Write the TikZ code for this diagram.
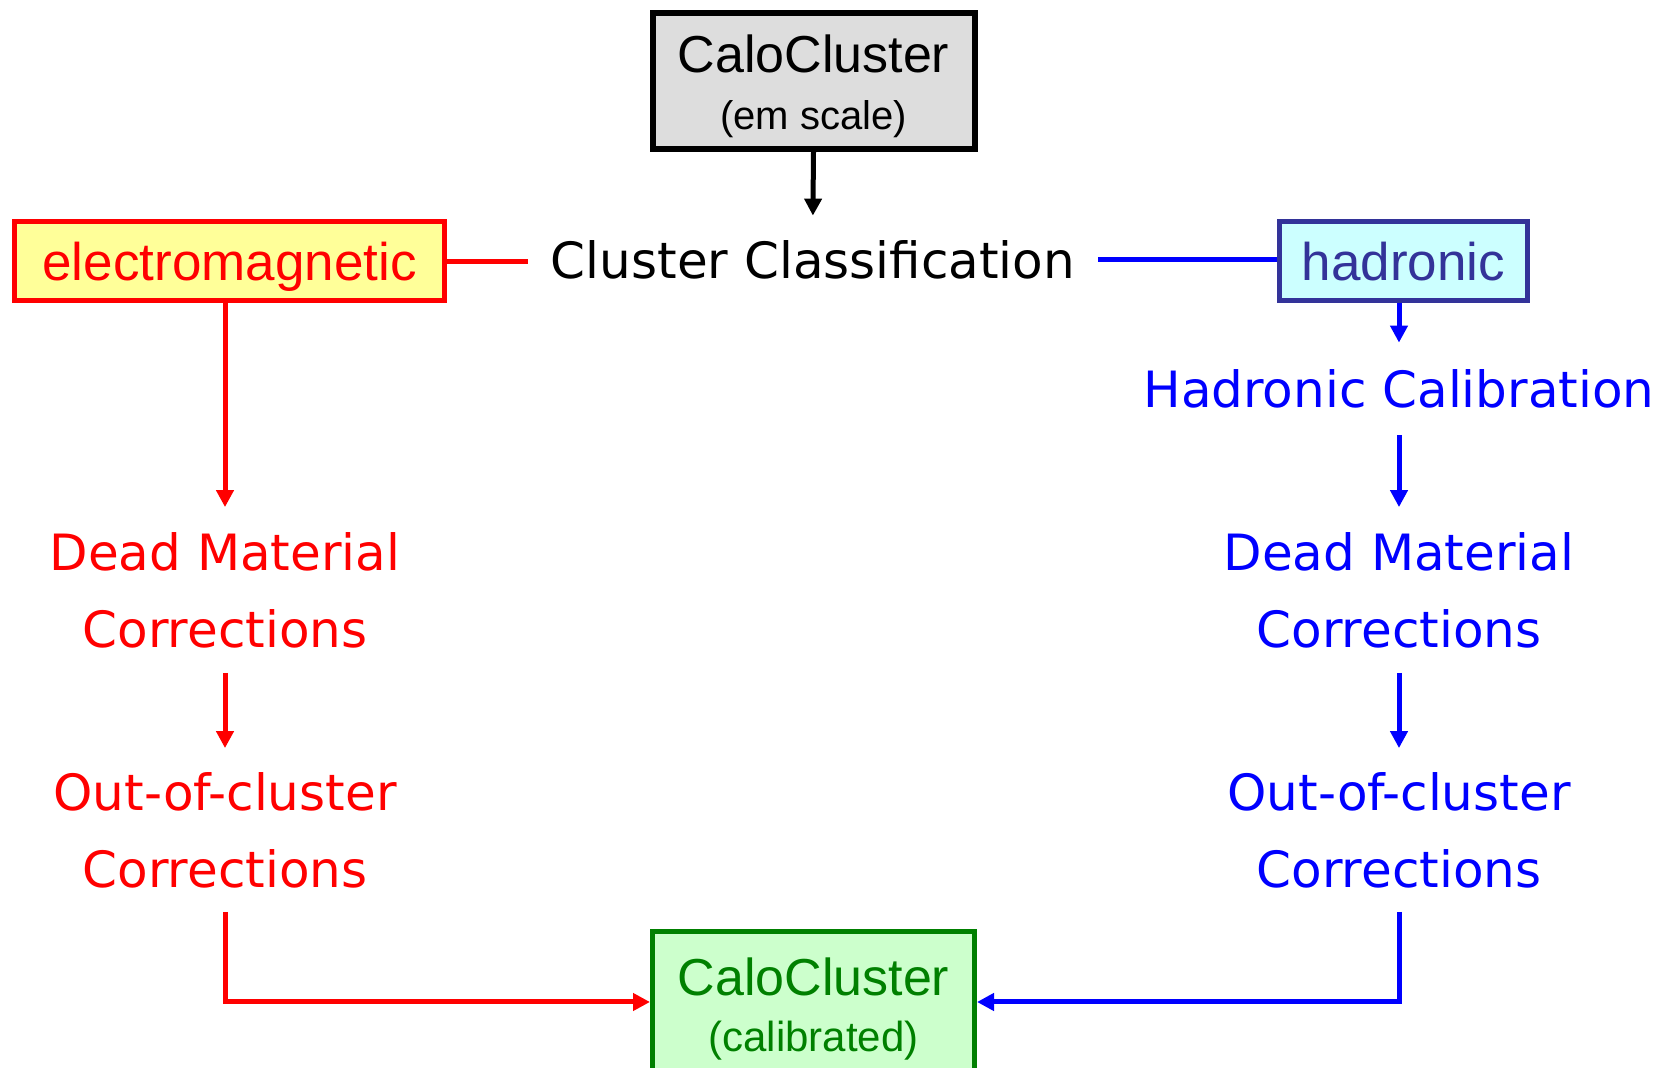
\documentclass[tikz,border=0pt]{standalone}
\usepackage{fontspec}
\setmainfont{Liberation Sans}
\newfontfamily\comic{DejaVu Sans}
\usetikzlibrary{arrows.meta}
\definecolor{hadblue}{HTML}{333399}
\definecolor{hadfill}{HTML}{CCFFFF}
\definecolor{emfill}{HTML}{FFFF99}
\definecolor{topfill}{HTML}{DDDDDD}
\definecolor{calgreen}{HTML}{008000}
\definecolor{calfill}{HTML}{CCFFCC}
\tikzset{
  boxnode/.style={draw, line width=2.5pt, inner sep=0pt, align=center},
  comictext/.style={inner sep=0pt, align=center, font=\comic\fontsize{25}{38.5}\selectfont},
  conn/.style={line width=2.5pt},
  arr/.style={line width=2.5pt, -{Triangle[width=8.5pt,length=8.5pt]}},
}
\begin{document}
\begin{tikzpicture}[x=0.5pt,y=-0.5pt]
\useasboundingbox (0,0) rectangle (1656,1068);
% boxes
\node[boxnode, fill=topfill, draw=black, line width=3pt, minimum width=161pt, minimum height=68pt,
      font=\fontsize{26}{28.7}\selectfont] (top) at (813.5,81)
      {\rule{0pt}{24pt}CaloCluster\\{\fontsize{20}{24}\selectfont (em scale)}};
\node[comictext, minimum width=285pt, minimum height=54pt] (cc) at (813,260) {Cluster Classification};
\node[boxnode, fill=emfill, draw=red, text=red, minimum width=215pt, minimum height=39.5pt,
      text depth=0pt, font=\fontsize{26.5}{30}\selectfont] (em) at (229.5,261.5) {electromagnetic};
\node[boxnode, fill=hadfill, draw=hadblue, text=hadblue, minimum width=124pt, minimum height=39.5pt,
      text depth=0pt, font=\fontsize{26.5}{30}\selectfont] (had) at (1403.5,261.5) {hadronic};
% right column
\node[comictext, text=blue, minimum height=46pt] (hcal) at (1399,389) {Hadronic Calibration};
\node[comictext, text=blue, minimum height=82.5pt] (dmr) at (1399,590) {Dead Material\\Corrections};
\node[comictext, text=blue, minimum height=81.5pt] (ocr) at (1399,830) {Out-of-cluster\\Corrections};
% left column
\node[comictext, text=red, minimum height=82.5pt] (dml) at (225,590) {Dead Material\\Corrections};
\node[comictext, text=red, minimum height=81.5pt] (ocl) at (225,830) {Out-of-cluster\\Corrections};
% result
\node[boxnode, fill=calfill, draw=calgreen, text=calgreen, minimum width=161pt, minimum height=70pt,
      font=\fontsize{26}{28}\selectfont] (cal) at (813.5,1002)
      {\rule{0pt}{26pt}CaloCluster\\{\fontsize{21}{24}\selectfont (calibrated)}};
% connectors
\draw[arr, shorten >=-5pt] (top.south) -- (cc.north);
\draw[conn, red] (em.east) -- (em.east -| cc.west);
\draw[conn, blue] (cc.east) -- (cc.east -| had.west);
\draw[arr, blue] (hcal.north |- had.south) -- (hcal.north);
\draw[arr, blue] (hcal.south) -- (dmr.north);
\draw[arr, blue] (dmr.south) -- (ocr.north);
\draw[arr, blue] (ocr.south) |- (cal.east);
\draw[arr, red] (dml.north |- em.south) -- (dml.north);
\draw[arr, red] (dml.south) -- (ocl.north);
\draw[arr, red] (ocl.south) |- (cal.west);
\end{tikzpicture}
\end{document}
